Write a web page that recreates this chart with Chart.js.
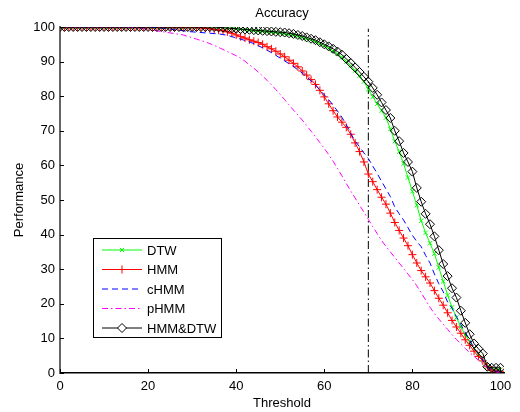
<!DOCTYPE html>
<html>
<head>
<meta charset="utf-8">
<script src="https://cdn.jsdelivr.net/npm/chart.js@4.4.0/dist/chart.umd.min.js"></script>
<style>
  html, body { margin: 0; padding: 0; background: #fff; }
  #wrap { width: 520px; height: 412px; }
</style>
</head>
<body>
<div id="wrap"><canvas id="accChart" width="520" height="412"></canvas></div>
<script>
// thresholds 0..100, one point per unit
const thresholds = Array.from({ length: 101 }, (_, i) => i);
const xTicks = [0, 20, 40, 60, 80, 100];
const yTicks = [0, 10, 20, 30, 40, 50, 60, 70, 80, 90, 100];
const cutLine = 70; // dash-dot marker line

// values
const dtw = [
  100, 100, 100, 100, 100, 100, 100, 100, 100, 100,
  100, 100, 100, 100, 100, 100, 100, 100, 100, 100,
  100, 100, 100, 100, 100, 100, 100, 100, 100, 100,
  100, 100, 100, 100, 100, 100, 99.9, 99.8, 99.7, 99.6,
  99.4, 99.3, 99.2, 99.0, 98.9, 98.8, 98.7, 98.6, 98.5, 98.4,
  98.2, 98.0, 97.8, 97.6, 97.3, 97.0, 96.6, 96.2, 95.7, 95.2,
  94.6, 93.9, 93.1, 92.2, 91.2, 90.0, 88.8, 87.4, 85.9, 84.2,
  82.0, 79.8, 77.8, 75.8, 73.8, 70.5, 67.0, 64.0, 60.5, 56.5,
  52.5, 48.5, 44.0, 40.5, 37.5, 34.5, 30.5, 26.5, 22.5, 19.0,
  16.0, 13.3, 11.0, 9.0, 7.2, 5.5, 3.8, 1.8, 1.0, 1.0,
  1.0
];
const hmm = [
  100, 100, 100, 100, 100, 100, 100, 100, 100, 100,
  100, 100, 100, 100, 100, 100, 100, 100, 100, 100,
  100, 100, 100, 100, 100, 100, 100, 100, 100, 100,
  100, 99.9, 99.8, 99.7, 99.5, 99.3, 99.1, 98.9, 98.6, 98.2,
  97.7, 97.2, 96.8, 96.3, 95.9, 95.5, 95.0, 94.3, 93.7, 93.0,
  92.2, 91.4, 90.4, 89.5, 88.5, 87.3, 86.1, 84.8, 83.4, 81.7,
  79.8, 77.8, 75.8, 74.0, 72.5, 71.0, 69.0, 66.5, 64.0, 61.0,
  57.5, 55.3, 53.0, 50.8, 48.8, 46.2, 43.5, 41.2, 39.0, 36.8,
  34.2, 31.8, 29.6, 27.8, 26.0, 23.8, 21.6, 19.6, 17.4, 15.2,
  13.3, 11.5, 9.6, 8.0, 6.3, 4.8, 3.5, 1.8, 0.8, 0.5,
  0.5
];
const chmm = [
  100, 100, 100, 100, 100, 100, 100, 100, 100, 100,
  100, 100, 100, 100, 100, 100, 100, 100, 100, 100,
  100, 99.9, 99.8, 99.7, 99.6, 99.4, 99.2, 99.1, 98.9, 98.7,
  98.6, 98.5, 98.4, 98.3, 98.2, 98.1, 98.0, 97.8, 97.6, 97.2,
  96.9, 96.5, 96.1, 95.7, 95.2, 94.6, 94.0, 93.3, 92.6, 91.8,
  91.0, 90.2, 89.4, 88.6, 87.6, 86.7, 85.6, 84.4, 83.2, 81.8,
  80.4, 79.0, 77.4, 75.7, 73.9, 71.8, 69.3, 67.0, 65.4, 63.6,
  62.0, 59.8, 57.7, 55.4, 53.2, 51.0, 48.0, 46.0, 44.2, 42.0,
  39.8, 38.0, 36.5, 34.0, 31.8, 28.6, 25.8, 23.5, 20.5, 18.7,
  16.3, 14.0, 11.8, 9.6, 7.2, 5.5, 3.7, 1.8, 0.8, 0.5,
  0.5
];
const phmm = [
  100, 100, 100, 100, 100, 100, 100, 100, 100, 100,
  100, 100, 100, 100, 100, 100, 99.9, 99.8, 99.7, 99.5,
  99.3, 99.1, 98.9, 98.7, 98.5, 98.3, 98.1, 97.9, 97.7, 97.3,
  96.9, 96.5, 96.1, 95.7, 95.2, 94.7, 94.1, 93.5, 92.9, 92.3,
  91.7, 91.0, 90.1, 89.1, 88.1, 87.0, 85.8, 84.6, 83.3, 81.9,
  80.5, 79.0, 77.5, 76.0, 74.6, 73.1, 71.5, 69.9, 68.2, 66.6,
  64.9, 63.1, 61.2, 59.1, 57.0, 54.8, 52.6, 50.6, 48.5, 46.5,
  44.4, 42.3, 40.3, 38.3, 36.6, 35.0, 33.4, 31.8, 30.2, 28.6,
  27.0, 25.2, 23.2, 21.1, 19.0, 17.2, 15.6, 14.1, 12.6, 11.1,
  9.7, 8.4, 7.1, 5.9, 4.8, 3.7, 2.6, 1.5, 0.6, 0.3,
  0.3
];
const hmmDtw = [
  100, 100, 100, 100, 100, 100, 100, 100, 100, 100,
  100, 100, 100, 100, 100, 100, 100, 100, 100, 100,
  100, 100, 100, 100, 100, 100, 100, 100, 100, 100,
  100, 100, 100, 100, 100, 100, 99.9, 99.8, 99.7, 99.6,
  99.5, 99.4, 99.3, 99.2, 99.1, 99.0, 98.9, 98.8, 98.7, 98.6,
  98.5, 98.4, 98.2, 98.0, 97.7, 97.4, 97.0, 96.6, 96.2, 95.6,
  95.0, 94.4, 93.7, 92.9, 92.0, 90.8, 89.6, 88.3, 87.0, 85.6,
  84.2, 82.4, 80.4, 78.2, 76.0, 73.7, 70.0, 67.0, 63.6, 61.0,
  58.2, 53.5, 49.5, 46.0, 43.0, 39.5, 35.5, 31.5, 28.0, 24.5,
  21.8, 18.0, 14.5, 11.2, 8.5, 7.0, 5.6, 1.8, 1.5, 1.5,
  1.5
];

const FONT = "'Liberation Sans', Arial, sans-serif";

function toPoints(values) {
  return values.map((v, i) => ({ x: thresholds[i], y: v }));
}

// series styling, also used by the legend drawn inside the plot
const series = [
  { label: 'DTW', data: dtw, color: '#00ff00', dash: [], marker: 'crossRot', radius: 3 },
  { label: 'HMM', data: hmm, color: '#ff0000', dash: [], marker: 'cross', radius: 4 },
  { label: 'cHMM', data: chmm, color: '#0000ff', dash: [6, 4], marker: false, radius: 0 },
  { label: 'pHMM', data: phmm, color: '#ff00ff', dash: [6, 3, 1.5, 3], marker: false, radius: 0 },
  { label: 'HMM&DTW', data: hmmDtw, color: '#000000', dash: [], marker: 'rectRot', radius: 4.5 }
];

const datasets = series.map((s, i) => ({
  label: s.label,
  data: toPoints(s.data),
  borderColor: s.color,
  borderWidth: 1,
  borderDash: s.dash,
  pointStyle: s.marker || 'circle',
  pointRadius: s.radius,
  pointBorderColor: s.color,
  pointBackgroundColor: 'rgba(0,0,0,0)',
  pointBorderWidth: 1,
  tension: 0,
  order: series.length - i + 1
}));

// vertical dash-dot line at threshold 70
datasets.push({
  label: 'cut',
  data: [{ x: cutLine, y: 0 }, { x: cutLine, y: 99.5 }],
  borderColor: '#000',
  borderWidth: 1,
  borderDash: [8, 3, 1.5, 3],
  pointRadius: 0,
  order: 10
});

// title, legend box inside the plot + inward tick marks like the original
const extrasPlugin = {
  id: 'extras',
  afterDraw(chart) {
    const ctx = chart.ctx;
    const xs = chart.scales.x, ys = chart.scales.y;
    ctx.save();
    ctx.strokeStyle = '#000';
    ctx.lineWidth = 1;
    xTicks.forEach(v => {
      const px = Math.round(xs.getPixelForValue(v)) + 0.5;
      ctx.beginPath();
      ctx.moveTo(px, ys.bottom);
      ctx.lineTo(px, ys.bottom - 4);
      ctx.stroke();
    });
    yTicks.forEach(v => {
      const py = Math.round(ys.getPixelForValue(v)) + 0.5;
      ctx.beginPath();
      ctx.moveTo(xs.left, py);
      ctx.lineTo(xs.left + 4, py);
      ctx.stroke();
    });

    ctx.font = '13px ' + FONT;
    ctx.fillStyle = '#000';
    ctx.textAlign = 'center';
    ctx.textBaseline = 'middle';
    ctx.fillText('Accuracy', (xs.left + xs.right) / 2, 13);

    // legend
    const bx = 93.5, by = 238.5, bw = 128, bh = 99;
    ctx.fillStyle = '#fff';
    ctx.fillRect(bx, by, bw, bh);
    ctx.strokeStyle = '#000';
    ctx.strokeRect(bx, by, bw, bh);
    ctx.textAlign = 'left';
    series.forEach((s, i) => {
      const y = 250 + i * 19.5;
      ctx.strokeStyle = s.color;
      ctx.lineWidth = 1;
      ctx.setLineDash(s.dash);
      ctx.beginPath();
      ctx.moveTo(102, y);
      ctx.lineTo(142, y);
      ctx.stroke();
      ctx.setLineDash([]);
      if (s.marker) {
        ctx.fillStyle = s.label === 'HMM&DTW' ? '#fff' : 'rgba(0,0,0,0)';
        Chart.helpers.drawPoint(ctx, {
          pointStyle: s.marker, radius: s.radius, rotation: 0, borderWidth: 1
        }, 122, y);
      }
      ctx.fillStyle = '#000';
      ctx.fillText(s.label, 147, y + 1);
    });
    ctx.restore();
  }
};

new Chart(document.getElementById('accChart').getContext('2d'), {
  type: 'line',
  data: { datasets: datasets },
  plugins: [extrasPlugin],
  options: {
    responsive: false,
    animation: false,
    devicePixelRatio: 1,
    layout: { padding: { left: 0, right: 16, top: 27, bottom: 0 } },
    plugins: {
      legend: { display: false },
      tooltip: { enabled: false },
      title: { display: false }
    },
    scales: {
      x: {
        type: 'linear',
        min: 0,
        max: 100.8,
        afterBuildTicks: axis => { axis.ticks = xTicks.map(v => ({ value: v })); },
        afterFit: axis => { axis.height = 39; },
        grid: { display: false, drawTicks: false },
        border: { display: true, color: '#000', width: 1.5 },
        ticks: { color: '#000', padding: 6, maxRotation: 0, font: { family: FONT, size: 13 } },
        title: {
          display: true, text: 'Threshold', color: '#000',
          font: { family: FONT, size: 13, lineHeight: 1.2 },
          padding: { top: 0, bottom: 1 }
        }
      },
      y: {
        type: 'linear',
        min: 0,
        max: 100,
        afterBuildTicks: axis => { axis.ticks = yTicks.map(v => ({ value: v })); },
        afterFit: axis => { axis.width = 60; },
        grid: { display: false, drawTicks: false },
        border: { display: true, color: '#666', width: 2 },
        ticks: { color: '#000', padding: 5, font: { family: FONT, size: 13 } },
        title: {
          display: true, text: 'Performance', color: '#000',
          font: { family: FONT, size: 13, lineHeight: 1.2 },
          padding: { top: 12, bottom: 0 }
        }
      }
    }
  }
});
</script>
</body>
</html>
